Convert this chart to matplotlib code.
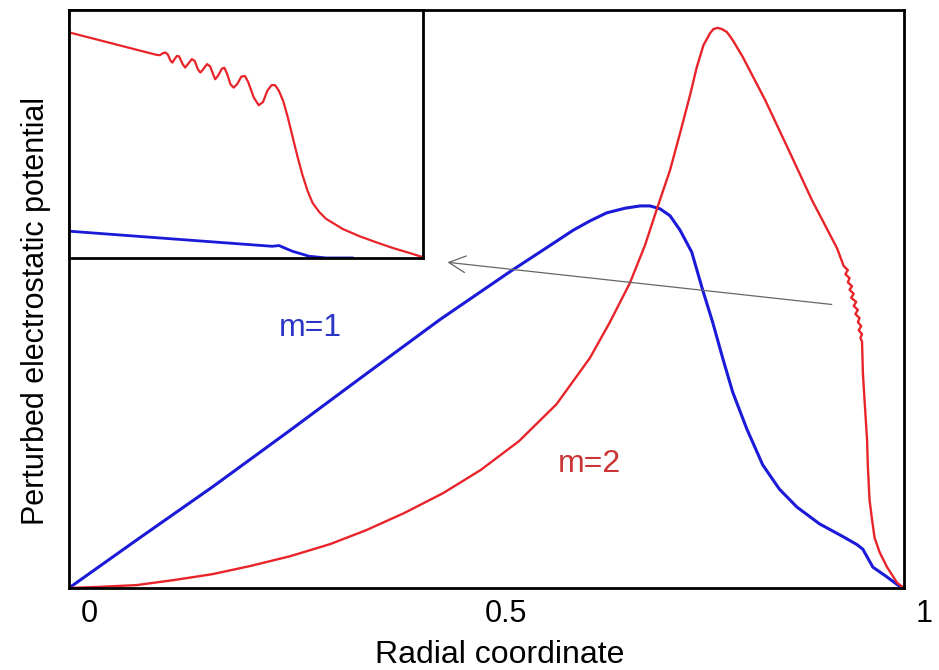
import matplotlib
matplotlib.use('Agg')
import matplotlib.pyplot as plt
import matplotlib.transforms as mtrans

plt.rcParams['font.family'] = ['Liberation Sans', 'DejaVu Sans']

# main curves (radial coordinate, perturbed potential, normalised)
r_m1 = [0, 0.081, 0.172, 0.265, 0.349, 0.444, 0.528, 0.564, 0.604, 0.624, 0.644,
        0.666, 0.684, 0.696, 0.708, 0.720, 0.732, 0.746, 0.759, 0.771, 0.783, 0.795,
        0.812, 0.831, 0.851, 0.872, 0.899, 0.927, 0.944, 0.951, 0.956, 0.963, 0.980,
        0.993, 1.0]
phi_m1 = [0, 0.083, 0.175, 0.273, 0.363, 0.464, 0.547, 0.581, 0.619, 0.635, 0.649,
          0.657, 0.661, 0.661, 0.656, 0.644, 0.619, 0.581, 0.516, 0.460, 0.398, 0.339,
          0.275, 0.213, 0.171, 0.140, 0.111, 0.089, 0.075, 0.067, 0.054, 0.036, 0.019,
          0.005, 0]

r_m2 = [0, 0.037, 0.081, 0.127, 0.172, 0.217, 0.265, 0.313, 0.356, 0.402, 0.448,
        0.493, 0.539, 0.584, 0.624, 0.648, 0.672, 0.690, 0.705, 0.720, 0.732, 0.744,
        0.752, 0.760, 0.768, 0.772, 0.777, 0.782, 0.788, 0.795, 0.807, 0.834, 0.862,
        0.890, 0.920,
        0.928, 0.933, 0.930, 0.935, 0.933, 0.938, 0.935, 0.940, 0.937, 0.943, 0.940,
        0.945, 0.942, 0.947, 0.945, 0.949, 0.946, 0.950, 0.948, 0.950,
        0.951, 0.953, 0.956, 0.957, 0.959, 0.962, 0.965, 0.971, 0.980, 0.992, 1.0]
phi_m2 = [0, 0.002, 0.005, 0.014, 0.024, 0.038, 0.055, 0.076, 0.100, 0.130, 0.164,
          0.204, 0.254, 0.318, 0.398, 0.460, 0.528, 0.593, 0.659, 0.723, 0.787, 0.853,
          0.901, 0.939, 0.960, 0.967, 0.969, 0.967, 0.962, 0.948, 0.919, 0.844, 0.758,
          0.671, 0.588,
          0.557, 0.550, 0.543, 0.536, 0.529, 0.522, 0.516, 0.509, 0.502, 0.495, 0.488,
          0.481, 0.474, 0.467, 0.460, 0.453, 0.446, 0.439, 0.433, 0.426,
          0.372, 0.325, 0.256, 0.209, 0.152, 0.118, 0.087, 0.062, 0.036, 0.009, 0]

# zoomed edge region (inset, own normalised units)
zr_m2 = [0, 0.248, 0.257, 0.264, 0.272, 0.279, 0.287, 0.292, 0.298, 0.305, 0.311,
         0.321, 0.328, 0.336, 0.347, 0.355, 0.364, 0.371, 0.378, 0.390, 0.399, 0.407,
         0.413, 0.421, 0.432, 0.439, 0.447, 0.456, 0.465, 0.475, 0.487, 0.497, 0.506,
         0.522, 0.536, 0.548, 0.560, 0.572, 0.582, 0.593, 0.605, 0.617, 0.631, 0.645,
         0.659, 0.674, 0.688, 0.707, 0.726, 0.773, 0.820, 0.868, 0.915, 0.962, 0.998]
zphi_m2 = [0.910, 0.819, 0.818, 0.825, 0.829, 0.821, 0.795, 0.788, 0.802, 0.815, 0.813,
           0.782, 0.768, 0.782, 0.802, 0.795, 0.761, 0.748, 0.759, 0.782, 0.772, 0.741,
           0.721, 0.735, 0.764, 0.767, 0.741, 0.701, 0.687, 0.701, 0.732, 0.734, 0.710,
           0.647, 0.616, 0.629, 0.674, 0.697, 0.697, 0.674, 0.633, 0.573, 0.492, 0.411,
           0.337, 0.270, 0.222, 0.185, 0.158, 0.117, 0.088, 0.063, 0.040, 0.020, 0.004]
zr_m1 = [0, 0.253, 0.442, 0.574, 0.593, 0.631, 0.678, 0.726, 0.80]
zphi_m1 = [0.108, 0.081, 0.061, 0.047, 0.050, 0.027, 0.007, 0.0, 0.0]

xticks = [0, 0.5, 1]
xtick_labels = ['0', '0.5', '1']

red = '#e8242a'
blue = '#1a1ad8'

fig = plt.figure(figsize=(9.39, 6.70), dpi=100)
ax = fig.add_axes([0.0735, 0.1224, 0.889, 0.8627])
ax.plot(r_m1, phi_m1, color=blue, lw=2.2)
ax.plot(r_m2, phi_m2, color=red, lw=1.7)
ax.set_xlim(0, 1)
ax.set_ylim(0, 1)
ax.set_yticks([])
ax.set_xticks(xticks)
ax.set_xticklabels(xtick_labels, fontsize=22)
ax.tick_params(axis='x', length=0, pad=8)
shift = mtrans.ScaledTranslation(0.2, 0, fig.dpi_scale_trans)
for lab in ax.get_xticklabels():
    lab.set_transform(lab.get_transform() + shift)
for s in ax.spines.values():
    s.set_linewidth(2.0)

ax.set_xlabel('Radial coordinate', fontsize=23)
ax.xaxis.set_label_coords(0.516, -0.09)
ax.set_ylabel('Perturbed electrostatic potential', fontsize=22)
ax.yaxis.set_label_coords(-0.022, 0.48)

ax.text(0.289, 0.45, 'm=1', color='#2a35c8', fontsize=23, ha='center', va='center')
ax.text(0.624, 0.215, 'm=2', color='#cc3535', fontsize=23, ha='center', va='center')

ax.annotate('', xy=(0.450, 0.564), xytext=(0.917, 0.490),
            arrowprops=dict(arrowstyle='->', color='0.4', lw=0.9, mutation_scale=30))

ins = fig.add_axes([0.0735, 0.615, 0.377, 0.370])
ins.plot(zr_m1, zphi_m1, color=blue, lw=2.0)
ins.plot(zr_m2, zphi_m2, color=red, lw=1.6)
ins.set_xlim(0, 1)
ins.set_ylim(0, 1)
ins.set_xticks([])
ins.set_yticks([])
for s in ins.spines.values():
    s.set_linewidth(2.0)

fig.savefig('out.png', dpi=100)
